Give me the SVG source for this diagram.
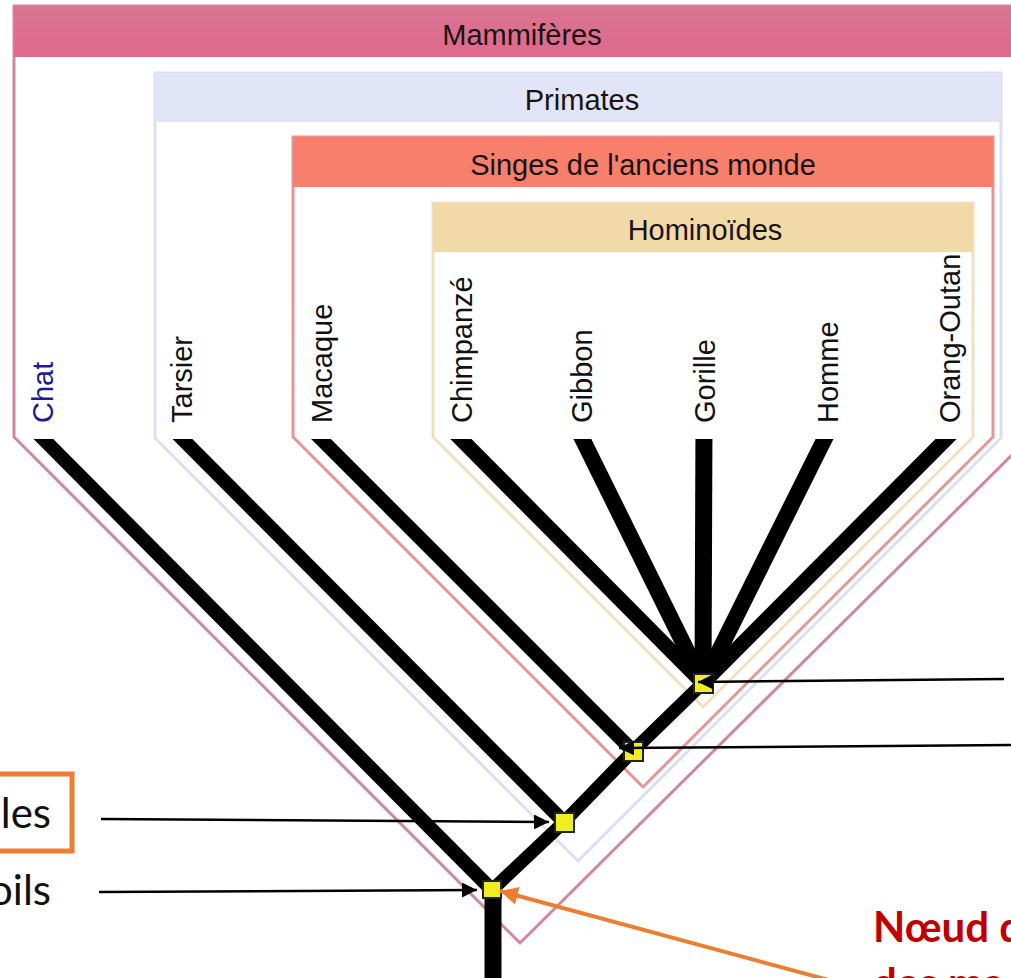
<svg xmlns="http://www.w3.org/2000/svg" width="1011" height="978" viewBox="0 0 1011 978">
  <style>
    .hdr { font-family: "Liberation Sans", Arial, sans-serif; font-size: 29px; text-anchor: middle; fill: #1a1212; }
    .leaf { font-family: "Liberation Sans", Arial, sans-serif; font-size: 29px; fill: #111; }
    .ann { font-family: Lato, "Open Sans", sans-serif; font-size: 42px; fill: #111; }
    .red { font-family: Lato, "Open Sans", sans-serif; font-size: 42px; font-weight: bold; fill: #c00000; }
    .br { stroke: #000; fill: none; stroke-linecap: butt; }
    .node { fill: #eeee22; stroke: #222; stroke-width: 2; }
    .arr { stroke: #000; stroke-width: 2.5; fill: none; marker-end: url(#ah); }
  </style>
  <defs>
    <marker id="ah" viewBox="0 0 10 10" refX="10" refY="5" markerWidth="6" markerHeight="6" markerUnits="strokeWidth" orient="auto">
      <path d="M0,0 L10,5 L0,10 Z" fill="#000"/>
    </marker>
    <marker id="aho" viewBox="0 0 10 10" refX="10" refY="5" markerWidth="4.5" markerHeight="4.5" markerUnits="strokeWidth" orient="auto">
      <path d="M0,0 L10,5 L0,10 Z" fill="#ed7d31"/>
    </marker>
    <clipPath id="topcut"><rect x="0" y="439" width="1011" height="539"/></clipPath>
    <linearGradient id="gm" x1="0" y1="0" x2="0" y2="1">
      <stop offset="0" stop-color="#d87592"/>
      <stop offset="1" stop-color="#e0688e"/>
    </linearGradient>
  </defs>
  <rect width="1011" height="978" fill="#fff"/>

  <g id="mammiferes">
    <path d="M14,6 H1030 V437 L520,943 L14,437 Z" fill="#fff" stroke="#d4859e" stroke-width="3"/>
    <rect x="14" y="6" width="1016" height="51" fill="url(#gm)"/>
    <text class="hdr" x="522" y="45">Mammifères</text>
  </g>
  <g id="primates">
    <path d="M155,73 H1001 V438 L578,861 L155,438 Z" fill="#fff" stroke="#dcdff0" stroke-width="3"/>
    <rect x="155" y="73" width="846" height="49" fill="#e1e5f7"/>
    <text class="hdr" x="582" y="110">Primates</text>
  </g>
  <g id="singes">
    <path d="M293,137 H993 V437 L643,787 L293,437 Z" fill="#fff" stroke="#e59595" stroke-width="3"/>
    <rect x="293" y="137" width="700" height="50" fill="#f77f6c"/>
    <text class="hdr" x="643" y="175">Singes de l'anciens monde</text>
  </g>
  <g id="hominoides">
    <path d="M433,203 H973 V437 L703,707 L433,437 Z" fill="#fff" stroke="#f0e0c2" stroke-width="3"/>
    <rect x="433" y="203" width="540" height="49" fill="#f2d9a8"/>
    <text class="hdr" x="705" y="240">Hominoïdes</text>
  </g>

  <g id="leaves">
    <text class="leaf" transform="translate(53,423) rotate(-90)" fill="#1c1c8c" style="fill:#1c1c8c">Chat</text>
    <text class="leaf" transform="translate(192,423) rotate(-90)">Tarsier</text>
    <text class="leaf" transform="translate(332,423) rotate(-90)">Macaque</text>
    <text class="leaf" transform="translate(472,423) rotate(-90)">Chimpanzé</text>
    <text class="leaf" transform="translate(592,423) rotate(-90)">Gibbon</text>
    <text class="leaf" transform="translate(715,423) rotate(-90)">Gorille</text>
    <text class="leaf" transform="translate(838,423) rotate(-90)">Homme</text>
    <text class="leaf" transform="translate(960,423) rotate(-90)">Orang-Outan</text>
  </g>

  <g id="connectors">
    <g clip-path="url(#topcut)">
      <line class="br" x1="24.5" y1="420" x2="492" y2="890" stroke-width="14"/>
      <line class="br" x1="163.5" y1="420" x2="564" y2="822" stroke-width="14"/>
      <line class="br" x1="302" y1="420" x2="633" y2="751" stroke-width="14"/>
      <line class="br" x1="442" y1="420" x2="703" y2="683" stroke-width="15"/>
      <line class="br" x1="573" y1="420" x2="703" y2="683" stroke-width="16"/>
      <line class="br" x1="704" y1="420" x2="703" y2="683" stroke-width="17"/>
      <line class="br" x1="834" y1="420" x2="703" y2="683" stroke-width="16"/>
      <line class="br" x1="965" y1="420" x2="703" y2="683" stroke-width="15"/>
    </g>
    <polyline class="br" points="492,890 564,822 633,751 703,683" stroke-width="13" stroke-linejoin="round"/>
    <line class="br" x1="493" y1="890" x2="493" y2="978" stroke-width="17"/>
  </g>

  <g id="nodes">
    <rect class="node" x="483" y="881" width="18" height="17"/>
    <rect class="node" x="555" y="813" width="19" height="19"/>
    <rect class="node" x="624" y="742" width="19" height="19"/>
    <rect class="node" x="694" y="674" width="19" height="19"/>
  </g>

  <g id="annotations">
    <rect x="-10" y="774" width="82" height="77" fill="none" stroke="#ed7d31" stroke-width="5"/>
    <text class="ann" x="51" y="828" text-anchor="end">les</text>
    <text class="ann" x="51" y="905" text-anchor="end">oils</text>
    <text class="red" x="873" y="942">Nœud d</text>
    <text class="red" x="873" y="998">des ma</text>
    <line class="arr" x1="101" y1="819" x2="549" y2="822"/>
    <line class="arr" x1="99" y1="892" x2="477" y2="890"/>
    <line class="arr" x1="1004" y1="679" x2="698" y2="682"/>
    <line class="arr" x1="1011" y1="745" x2="619" y2="748"/>
    <line x1="836" y1="982" x2="500" y2="891" stroke="#ed7d31" stroke-width="4" marker-end="url(#aho)"/>
  </g>
</svg>
